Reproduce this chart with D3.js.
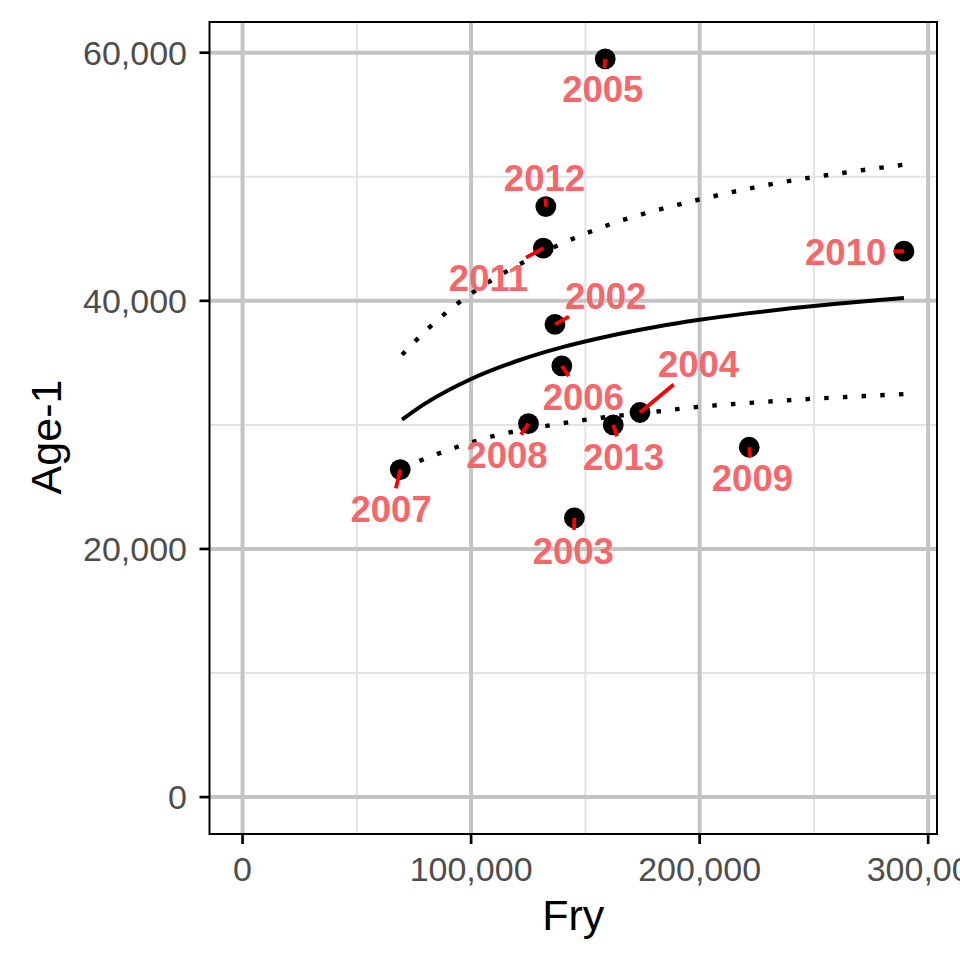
<!DOCTYPE html>
<html>
<head>
<meta charset="utf-8">
<script src="https://cdn.jsdelivr.net/npm/d3@7"></script>
<style>
  body { margin: 0; background: #fff; }
  svg { display: block; font-family: "Liberation Sans", Arial, Helvetica, sans-serif; }
</style>
</head>
<body>
<svg id="chart" width="960" height="960"></svg>
<script>
// ---- data ----
const years  = ["2002","2003","2004","2005","2006","2007","2008","2009","2010","2011","2012","2013"];
const fry    = [136700, 145200, 173900, 158700, 139700, 69000, 125100, 221700, 289400, 131600, 132700, 162200];
const age1   = [38100, 22500, 31000, 59500, 34750, 26400, 30100, 28200, 44000, 44250, 47600, 30000];
// repelled label positions (data units)
const labelFry  = [158900, 144700, 199500, 157600, 149100, 65000, 115700, 223100, 263900, 107600, 132100, 166700];
const labelAge1 = [40390, 19880, 34920, 57100, 32280, 23230, 27560, 25730, 43980, 41830, 49900, 27420];

// fitted curve and bounds
const fitX   = [69800, 80000, 100000, 120000, 140000, 160000, 180000, 200000, 220000, 240000, 260000, 280000, 289400];
const fitY   = [30430, 31730, 33700, 35150, 36270, 37150, 37870, 38470, 38970, 39400, 39770, 40090, 40230];
const upperX = [69800, 81400, 94100, 107800, 122400, 136800, 152400, 168000, 175700, 200000, 232500, 265200, 289400];
const upperY = [35650, 37800, 39780, 41530, 43060, 44380, 45590, 46610, 47020, 48170, 49440, 50380, 50970];
const lowerX = [69800, 77500, 93500, 109600, 133600, 149600, 182400, 199300, 224100, 248800, 273600, 289400];
const lowerY = [26530, 27100, 28200, 29090, 29940, 30400, 31100, 31450, 31800, 32100, 32340, 32480];

const xMajor = [0, 100000, 200000, 300000];
const xMinor = [50000, 150000, 250000];
const yMajor = [0, 20000, 40000, 60000];
const yMinor = [10000, 30000, 50000];
const xTitle = "Fry";
const yTitle = "Age-1";

// ---- layout ----
const svg = d3.select("#chart");
const P = { left: 209.5, right: 937, top: 22, bottom: 834 };
const fmt = d3.format(",");

function expand(lo, hi, f) { const d = (hi - lo) * f; return [lo - d, hi + d]; }
const x = d3.scaleLinear().domain(expand(0, d3.max(fry), 0.05)).range([P.left, P.right]);
const y = d3.scaleLinear().domain(expand(0, d3.max(age1), 0.05)).range([P.bottom, P.top]);

svg.append("rect").attr("width", 960).attr("height", 960).attr("fill", "#fff");

const defs = svg.append("defs");
defs.append("clipPath").attr("id", "panel").append("rect")
  .attr("x", P.left).attr("y", P.top).attr("width", P.right - P.left).attr("height", P.bottom - P.top);

const g = svg.append("g").attr("clip-path", "url(#panel)");

// grid
g.selectAll(".xmin").data(xMinor).join("line")
  .attr("x1", d => x(d)).attr("x2", d => x(d)).attr("y1", P.top).attr("y2", P.bottom)
  .attr("stroke", "#e3e3e3").attr("stroke-width", 2);
g.selectAll(".ymin").data(yMinor).join("line")
  .attr("y1", d => y(d)).attr("y2", d => y(d)).attr("x1", P.left).attr("x2", P.right)
  .attr("stroke", "#e3e3e3").attr("stroke-width", 2);
g.selectAll(".xmaj").data(xMajor).join("line")
  .attr("x1", d => x(d)).attr("x2", d => x(d)).attr("y1", P.top).attr("y2", P.bottom)
  .attr("stroke", "#c4c4c4").attr("stroke-width", 4);
g.selectAll(".ymaj").data(yMajor).join("line")
  .attr("y1", d => y(d)).attr("y2", d => y(d)).attr("x1", P.left).attr("x2", P.right)
  .attr("stroke", "#c4c4c4").attr("stroke-width", 4);

// curves
const line = d3.line().x(d => x(d[0])).y(d => y(d[1])).curve(d3.curveMonotoneX);
g.append("path").datum(d3.zip(fitX, fitY)).attr("d", line)
  .attr("fill", "none").attr("stroke", "#000").attr("stroke-width", 4);
[[upperX, upperY], [lowerX, lowerY]].forEach(([xs, ys]) => {
  g.append("path").datum(d3.zip(xs, ys)).attr("d", line)
    .attr("fill", "none").attr("stroke", "#000").attr("stroke-width", 4.4)
    .attr("stroke-dasharray", "4.5 14.2");
});

// points
const pts = years.map((yr, i) => ({ yr, fx: fry[i], ay: age1[i], lx: labelFry[i], ly: labelAge1[i] }));
g.selectAll(".pt").data(pts).join("circle")
  .attr("cx", d => x(d.fx)).attr("cy", d => y(d.ay)).attr("r", 10.4).attr("fill", "#000");

// labels (measure first)
const FS = 36.5, CAP = 0.716 * FS, PAD = 7.5;
const labels = g.selectAll(".lab").data(pts).join("text")
  .attr("x", d => x(d.lx)).attr("y", d => y(d.ly) + CAP / 2)
  .attr("text-anchor", "middle").attr("font-size", FS).attr("font-weight", "bold")
  .attr("fill", "#F5676A").text(d => d.yr);
labels.each(function (d) { d.w = this.getComputedTextLength(); });

// segments
const segG = g.insert("g", "text");
pts.forEach(d => {
  const px = x(d.fx), py = y(d.ay), lx = x(d.lx), ly = y(d.ly);
  const dx = px - lx, dy = py - ly;
  const hw = d.w / 2 + PAD, hh = CAP / 2 + PAD;
  const s = Math.min(dx === 0 ? Infinity : hw / Math.abs(dx), dy === 0 ? Infinity : hh / Math.abs(dy));
  if (s >= 1) return;
  segG.append("line")
    .attr("x1", px).attr("y1", py).attr("x2", lx + dx * s).attr("y2", ly + dy * s)
    .attr("stroke", "#ff0000").attr("stroke-width", 3.8);
});

// panel border
svg.append("rect").attr("x", P.left).attr("y", P.top)
  .attr("width", P.right - P.left).attr("height", P.bottom - P.top)
  .attr("fill", "none").attr("stroke", "#000").attr("stroke-width", 2);

// ticks & tick labels
const TL = 10, TFS = 34;
svg.selectAll(".xt").data(xMajor).join("line")
  .attr("x1", d => x(d)).attr("x2", d => x(d)).attr("y1", P.bottom).attr("y2", P.bottom + TL)
  .attr("stroke", "#000").attr("stroke-width", 2.7);
svg.selectAll(".yt").data(yMajor).join("line")
  .attr("y1", d => y(d)).attr("y2", d => y(d)).attr("x1", P.left - TL).attr("x2", P.left)
  .attr("stroke", "#000").attr("stroke-width", 2.7);
svg.selectAll(".xtl").data(xMajor).join("text")
  .attr("x", d => x(d)).attr("y", 880.7).attr("text-anchor", "middle")
  .attr("font-size", TFS).attr("fill", "#4d4d4d").text(d => fmt(d));
svg.selectAll(".ytl").data(yMajor).join("text")
  .attr("x", 187).attr("y", d => y(d) + 0.716 * TFS / 2).attr("text-anchor", "end")
  .attr("font-size", TFS).attr("fill", "#4d4d4d").text(d => fmt(d));

// axis titles
svg.append("text").attr("x", (P.left + P.right) / 2).attr("y", 930)
  .attr("text-anchor", "middle").attr("font-size", 43).attr("fill", "#000").text(xTitle);
svg.append("text")
  .attr("transform", `translate(61,437) rotate(-90)`)
  .attr("text-anchor", "middle").attr("font-size", 43).attr("fill", "#000").text(yTitle);
</script>
</body>
</html>
